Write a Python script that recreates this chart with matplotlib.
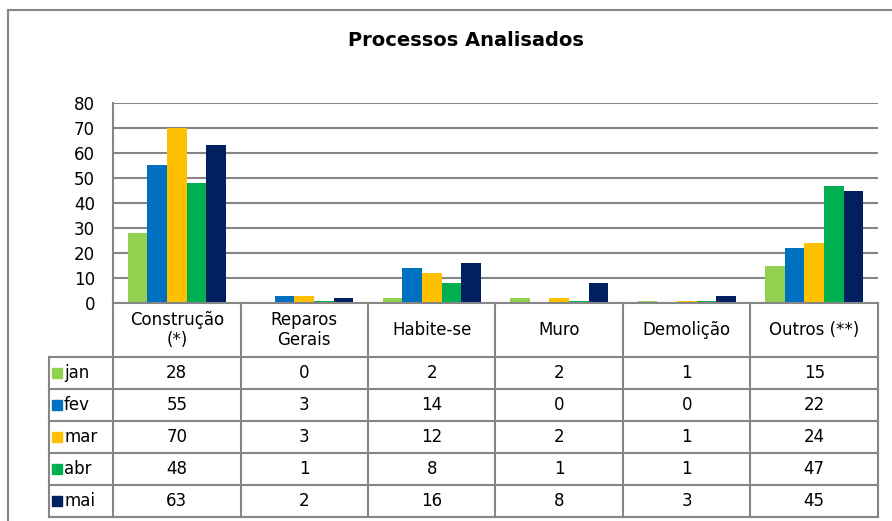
import matplotlib.pyplot as plt
from matplotlib.patches import Rectangle
import numpy as np

# data
categorias = ["Construção\n(*)", "Reparos\nGerais", "Habite-se", "Muro", "Demolição", "Outros (**)"]
meses = ["jan", "fev", "mar", "abr", "mai"]
jan = [28, 0, 2, 2, 1, 15]
fev = [55, 3, 14, 0, 0, 22]
mar = [70, 3, 12, 2, 1, 24]
abr = [48, 1, 8, 1, 1, 47]
mai = [63, 2, 16, 8, 3, 45]
series = [jan, fev, mar, abr, mai]
cores = ["#92D050", "#0070C0", "#FFC000", "#00B050", "#002060"]
yticks = [0, 10, 20, 30, 40, 50, 60, 70, 80]

plt.rcParams['font.family'] = ['DejaVu Sans']
W, H = 892, 521
grid_c = "#868686"

fig = plt.figure(figsize=(W / 100, H / 100), dpi=100)

# outer chart border (only top and left are inside the picture)
fig.add_artist(plt.Line2D([8 / W, 1.01], [1 - 10 / H, 1 - 10 / H], color=grid_c, lw=1.5))
fig.add_artist(plt.Line2D([8 / W, 8 / W], [-0.01, 1 - 10 / H], color=grid_c, lw=1.5))

fig.text(466 / W, 1 - 40 / H, "Processos Analisados", ha="center", va="center",
         fontsize=14, fontweight="bold")

# plot area
x0, x1, y_top, y_zero = 113, 878, 103, 303
ax = fig.add_axes([x0 / W, 1 - y_zero / H, (x1 - x0) / W, (y_zero - y_top) / H])
n = len(categorias)
x = np.arange(n)
bw = 0.154
for i, (vals, c) in enumerate(zip(series, cores)):
    ax.bar(x + (i - 2) * bw, vals, bw, color=c, linewidth=0, zorder=3)
ax.set_xlim(-0.5, n - 0.5)
ax.set_ylim(0, 80)
ax.set_yticks(yticks)
ax.tick_params(axis="y", length=0, pad=13, labelsize=12)
ax.set_xticks([])
ax.yaxis.grid(True, color=grid_c, lw=1.5, zorder=0)
for s in ["top", "right", "bottom"]:
    ax.spines[s].set_visible(False)
ax.spines["left"].set_color(grid_c)
ax.spines["left"].set_linewidth(1.5)

# data table below the plot
col_px = (x1 - x0) / n
lab_px = x0 - 49
head_h, row_h = 54, 32
tab_h = head_h + row_h * len(meses)
tab = fig.add_axes([49 / W, 1 - (y_zero + tab_h) / H, (x1 - 49) / W, tab_h / H])
left = -0.5 - lab_px / col_px
tab.set_xlim(left, n - 0.5)
tab.set_ylim(tab_h, 0)
tab.axis("off")

lk = dict(color=grid_c, lw=1.5, clip_on=False)
tab.plot([-0.5, n - 0.5], [0, 0], **lk)
for r in range(len(meses) + 1):
    y = head_h + r * row_h
    tab.plot([left, n - 0.5], [y, y], **lk)
tab.plot([left, left], [head_h, tab_h], **lk)
for k in range(n + 1):
    tab.plot([k - 0.5, k - 0.5], [0, tab_h], **lk)

for j, cat in enumerate(categorias):
    tab.text(j, head_h / 2, cat, ha="center", va="center", fontsize=12, linespacing=1.1)

sq_w = 10 / col_px
for r, (m, vals, c) in enumerate(zip(meses, series, cores)):
    yc = head_h + (r + 0.5) * row_h
    tab.add_patch(Rectangle((left + 3 / col_px, yc - 5), sq_w, 10, color=c, clip_on=False))
    tab.text(left + 15 / col_px, yc, m, ha="left", va="center", fontsize=12)
    for j, v in enumerate(vals):
        tab.text(j, yc, str(v), ha="center", va="center", fontsize=12)

fig.savefig("out.png", dpi=100)
